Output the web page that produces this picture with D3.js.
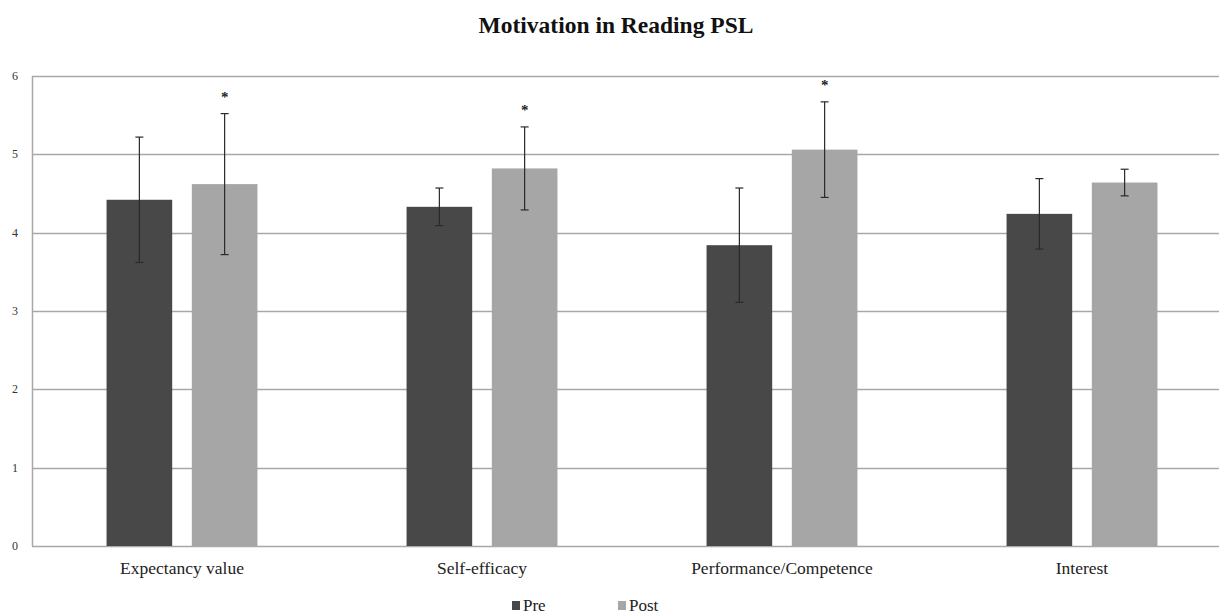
<!DOCTYPE html>
<html>
<head>
<meta charset="utf-8">
<script src="https://cdn.jsdelivr.net/npm/d3@7"></script>
<style>
  html, body { margin: 0; padding: 0; background: #fff; }
  svg { display: block; font-family: "Liberation Serif", "Times New Roman", serif; }
</style>
</head>
<body>
<svg id="chart" width="1219" height="616"></svg>
<script>
// Motivation in reading PSL: pre/post means with standard deviations
const categories = ["Expectancy value", "Self-efficacy", "Performance/Competence", "Interest"];
const seriesNames = ["Pre", "Post"];
const preMeans = [4.42, 4.33, 3.84, 4.24];
const postMeans = [4.62, 4.82, 5.06, 4.64];
const preSD = [0.80, 0.24, 0.73, 0.45];
const postSD = [0.90, 0.53, 0.61, 0.17];
const significant = [true, true, true, false];
const yTicks = [0, 1, 2, 3, 4, 5, 6];

const colors = { Pre: "#484848", Post: "#a6a6a6" };

(function draw() {
  const svg = d3.select("#chart");
  const W = 1219;
  const plotLeft = 32, plotRight = 1232, plotTop = 76, plotBottom = 546;

  const x = d3.scaleBand()
    .domain(categories)
    .range([plotLeft, plotRight])
    .paddingInner(0.497)
    .paddingOuter(0.2485);

  const xi = d3.scaleBand()
    .domain(seriesNames)
    .range([0, x.bandwidth()])
    .paddingInner(0.23);

  const y = d3.scaleLinear().domain([0, 6]).range([plotBottom, plotTop]);

  // Horizontal gridlines
  svg.append("g")
    .selectAll("line")
    .data(yTicks)
    .join("line")
    .attr("x1", plotLeft)
    .attr("x2", W)
    .attr("y1", d => Math.round(y(d)) + 0.5)
    .attr("y2", d => Math.round(y(d)) + 0.5)
    .attr("stroke", "#a8a8a8")
    .attr("stroke-width", 1.5);

  // Left axis line
  svg.append("line")
    .attr("x1", plotLeft + 0.5).attr("x2", plotLeft + 0.5)
    .attr("y1", y(6)).attr("y2", y(0))
    .attr("stroke", "#a8a8a8")
    .attr("stroke-width", 1.5);

  // Y tick labels
  svg.append("g")
    .selectAll("text")
    .data(yTicks)
    .join("text")
    .attr("x", 15)
    .attr("y", d => y(d) + 4)
    .attr("text-anchor", "middle")
    .attr("font-size", 12)
    .attr("fill", "#333")
    .text(d => d);

  // Build rows from the arrays
  const rows = [];
  categories.forEach((c, i) => {
    rows.push({ cat: c, s: "Pre", v: preMeans[i], sd: preSD[i], sig: false });
    rows.push({ cat: c, s: "Post", v: postMeans[i], sd: postSD[i], sig: significant[i] });
  });

  const bx = d => x(d.cat) + xi(d.s);

  // Bars
  svg.append("g")
    .selectAll("rect")
    .data(rows)
    .join("rect")
    .attr("x", bx)
    .attr("y", d => y(d.v))
    .attr("width", xi.bandwidth())
    .attr("height", d => y(0) - y(d.v))
    .attr("fill", d => colors[d.s]);

  // Error bars
  const eg = svg.append("g").attr("stroke", "#2a2a2a").attr("stroke-width", 1.2);
  rows.forEach(d => {
    const cx = bx(d) + xi.bandwidth() / 2;
    const y1 = y(d.v + d.sd), y2 = y(d.v - d.sd);
    eg.append("line").attr("x1", cx).attr("x2", cx).attr("y1", y1).attr("y2", y2);
    eg.append("line").attr("x1", cx - 4).attr("x2", cx + 4).attr("y1", y1).attr("y2", y1);
    eg.append("line").attr("x1", cx - 4).attr("x2", cx + 4).attr("y1", y2).attr("y2", y2);
  });

  // Significance markers
  svg.append("g")
    .selectAll("text")
    .data(rows.filter(d => d.sig))
    .join("text")
    .attr("x", d => bx(d) + xi.bandwidth() / 2)
    .attr("y", d => y(d.v + d.sd) - 12)
    .attr("text-anchor", "middle")
    .attr("font-size", 15)
    .attr("font-weight", "bold")
    .attr("fill", "#222")
    .text("*");

  // Category labels
  svg.append("g")
    .selectAll("text")
    .data(categories)
    .join("text")
    .attr("x", d => x(d) + x.bandwidth() / 2)
    .attr("y", 574)
    .attr("text-anchor", "middle")
    .attr("font-size", 17.5)
    .attr("fill", "#222")
    .text(d => d);

  // Title
  svg.append("text")
    .attr("x", 616)
    .attr("y", 33)
    .attr("text-anchor", "middle")
    .attr("font-size", 23.5)
    .attr("font-weight", "bold")
    .attr("fill", "#111")
    .text("Motivation in Reading PSL");

  // Legend
  const legend = svg.append("g")
    .selectAll("g")
    .data(seriesNames)
    .join("g")
    .attr("transform", (d, i) => `translate(${512 + i * 106}, 0)`);
  legend.append("rect")
    .attr("x", 0).attr("y", 601)
    .attr("width", 8).attr("height", 9)
    .attr("fill", d => colors[d]);
  legend.append("text")
    .attr("x", 11).attr("y", 611)
    .attr("font-size", 17)
    .attr("fill", "#222")
    .text(d => d);
})();
</script>
</body>
</html>
